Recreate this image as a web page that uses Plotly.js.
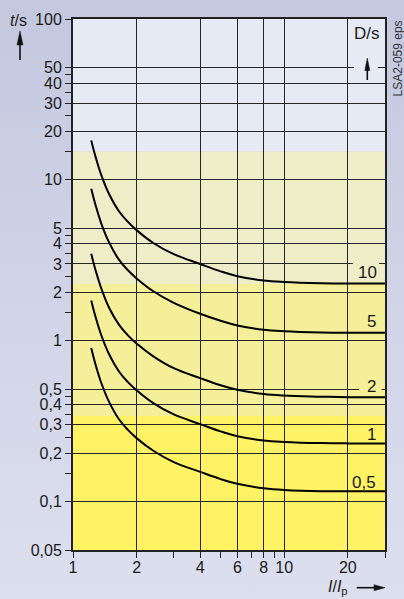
<!DOCTYPE html>
<html>
<head>
<meta charset="utf-8">
<script src="https://cdn.plot.ly/plotly-3.0.1.min.js"></script>
<style>
html,body{margin:0;padding:0;width:404px;height:599px;overflow:hidden;
background:linear-gradient(to bottom,#c4c8df 0%,#d2d5e8 55%,#dcdfee 100%);}
#chart{width:404px;height:599px;}
</style>
</head>
<body>
<div id="chart"></div>
<script>
// ---- data ----
var currentRatio = [1.22, 1.28, 1.36, 1.48, 1.65, 1.82, 2, 2.4, 3, 4, 5, 6, 8, 10, 15, 20, 30];
var curveD10  = [17.6, 13.85, 10.74, 8.19, 6.38, 5.48, 4.87, 4.05, 3.45, 3.0, 2.7, 2.52, 2.37, 2.32, 2.28, 2.27, 2.27];
var curveD5   = [8.8, 6.93, 5.37, 4.1, 3.19, 2.74, 2.44, 2.03, 1.72, 1.47, 1.33, 1.245, 1.17, 1.145, 1.125, 1.12, 1.12];
var curveD2   = [3.47, 2.73, 2.12, 1.61, 1.26, 1.08, 0.96, 0.8, 0.675, 0.585, 0.528, 0.495, 0.466, 0.456, 0.449, 0.445, 0.445];
var curveD1   = [1.78, 1.4, 1.085, 0.827, 0.644, 0.553, 0.492, 0.409, 0.348, 0.303, 0.273, 0.255, 0.24, 0.235, 0.231, 0.23, 0.23];
var curveD05  = [0.9, 0.706, 0.548, 0.418, 0.325, 0.279, 0.248, 0.207, 0.176, 0.153, 0.138, 0.129, 0.121, 0.118, 0.116, 0.116, 0.116];
var curveLabels = ["10", "5", "2", "1", "0,5"];

var xTickVals = [1, 2, 4, 6, 8, 10, 20];
var xTickText = ["1", "2", "4", "6", "8", "10", "20"];
var xMinorVals = [3, 5, 7, 9, 30];
var yTickVals = [0.05, 0.1, 0.2, 0.3, 0.4, 0.5, 1, 2, 3, 4, 5, 10, 20, 30, 40, 50, 100];
var yTickText = ["0,05", "0,1", "0,2", "0,3", "0,4", "0,5", "1", "2", "3", "4", "5", "10", "20", "30", "40", "50", "100"];
var yMinorVals = [0.15, 0.25, 0.35, 0.45, 1.5, 2.5, 3.5, 4.5, 15, 25, 35, 45];
var bandLimits = [100, 15, 2.25, 0.34, 0.05];
var bandColors = ["#e6eaf5", "#efedc8", "#f6ef9a", "#fff365"];

// ---- build ----
var series = [curveD10, curveD5, curveD2, curveD1, curveD05];
var traces = series.map(function (ys, i) {
  return {x: currentRatio, y: ys, type: "scatter", mode: "lines", name: curveLabels[i],
          line: {color: "#000", width: 2, shape: "spline", smoothing: 1.1}, hoverinfo: "skip"};
});

var shapes = [];
for (var i = 0; i < bandColors.length; i++) {
  shapes.push({type: "rect", layer: "below", xref: "paper", yref: "y", x0: 0, x1: 1,
               y0: bandLimits[i + 1], y1: bandLimits[i], fillcolor: bandColors[i], line: {width: 0}});
}
// small gaps in grid lines around labels
shapes.push({type: "rect", layer: "above", xref: "paper", yref: "y", x0: 0.9006, x1: 0.9776, y0: 48.6, y1: 51.4, fillcolor: bandColors[0], line: {width: 0}});
shapes.push({type: "rect", layer: "above", xref: "paper", yref: "y", x0: 0.897, x1: 0.981, y0: 2.94, y1: 3.06, fillcolor: bandColors[1], line: {width: 0}});
shapes.push({type: "rect", layer: "above", xref: "paper", yref: "y", x0: 0.917, x1: 0.989, y0: 0.49, y1: 0.51, fillcolor: bandColors[2], line: {width: 0}});

// arrows (paper coordinates)
function arrowShapes(line, tri) {
  shapes.push({type: "line", layer: "above", xref: "paper", yref: "paper",
               x0: line[0], y0: line[1], x1: line[2], y1: line[3], line: {color: "#111", width: 1.6}});
  shapes.push({type: "path", layer: "above", xref: "paper", yref: "paper",
               path: "M" + tri[0] + "," + tri[1] + " L" + tri[2] + "," + tri[3] + " L" + tri[4] + "," + tri[5] + " Z",
               fillcolor: "#111", line: {color: "#111", width: 0.5}});
}
arrowShapes([-0.16987, 0.92279, -0.16987, 0.95292], [-0.16987, 0.97740, -0.17949, 0.95104, -0.16026, 0.95104]);
arrowShapes([0.94327, 0.88512, 0.94327, 0.90395], [0.94327, 0.92655, 0.93526, 0.90301, 0.95128, 0.90301]);
arrowShapes([0.90929, -0.07100, 0.96795, -0.07100], [1.0, -0.07100, 0.96474, -0.06535, 0.96474, -0.07665]);

var lblPos = [[0.944, 0.5217], [0.958, 0.4303], [0.958, 0.3079], [0.957, 0.2166], [0.9327, 0.1262]];
var annotations = curveLabels.map(function (t, i) {
  return {text: t, xref: "paper", yref: "paper", x: lblPos[i][0], y: lblPos[i][1],
          xanchor: "center", yanchor: "middle", showarrow: false,
          font: {family: "Liberation Sans, Arial, sans-serif", size: 17, color: "#1a1a1a"}};
});
var tf = {family: "Liberation Sans, Arial, sans-serif", size: 16, color: "#1a1a1a"};
annotations.push({text: "<i>t</i>/s", xref: "paper", yref: "paper", x: -0.1747, y: 0.9972,
  xanchor: "center", yanchor: "middle", showarrow: false, font: tf});
annotations.push({text: "D/s", xref: "paper", yref: "paper", x: 0.9423, y: 0.9718,
  xanchor: "center", yanchor: "middle", showarrow: false, font: {family: tf.family, size: 17, color: "#1a1a1a"}});
annotations.push({text: "<i>I</i>/<i>I</i><sub>p</sub>", xref: "paper", yref: "paper", x: 0.849, y: -0.0697,
  xanchor: "center", yanchor: "middle", showarrow: false, font: tf});
annotations.push({text: "LSA2-059 eps", xref: "paper", yref: "paper", x: 1.040, y: 0.9266,
  xanchor: "center", yanchor: "middle", textangle: -90, showarrow: false,
  font: {family: tf.family, size: 12, color: "#333"}});

var layout = {
  width: 404, height: 599,
  margin: {l: 73, r: 19, t: 19, b: 49, pad: 0},
  paper_bgcolor: "rgba(0,0,0,0)",
  plot_bgcolor: "rgba(0,0,0,0)",
  showlegend: false,
  font: tf,
  xaxis: {type: "log", range: [0, Math.log10(30)], tickmode: "array", tickvals: xTickVals, ticktext: xTickText,
          ticks: "outside", ticklen: 6, tickwidth: 1, tickcolor: "#222", ticklabelstandoff: -4,
          showgrid: true, gridcolor: "#262626", gridwidth: 1, zeroline: false,
          showline: true, linecolor: "#222", linewidth: 2, mirror: true, tickfont: tf,
          minor: {tickmode: "array", tickvals: xMinorVals, ticks: "outside", ticklen: 6, tickwidth: 1, tickcolor: "#222", showgrid: false}},
  yaxis: {type: "log", range: [Math.log10(0.05), 2], tickmode: "array", tickvals: yTickVals, ticktext: yTickText,
          ticks: "outside", ticklen: 6, tickwidth: 1, tickcolor: "#222",
          showgrid: true, gridcolor: "#262626", gridwidth: 1, zeroline: false,
          showline: true, linecolor: "#222", linewidth: 2, mirror: true, tickfont: tf,
          minor: {tickmode: "array", tickvals: yMinorVals, ticks: "outside", ticklen: 6, tickwidth: 1, tickcolor: "#222", showgrid: false}},
  shapes: shapes,
  annotations: annotations
};

Plotly.newPlot("chart", traces, layout, {displayModeBar: false});
</script>
</body>
</html>
